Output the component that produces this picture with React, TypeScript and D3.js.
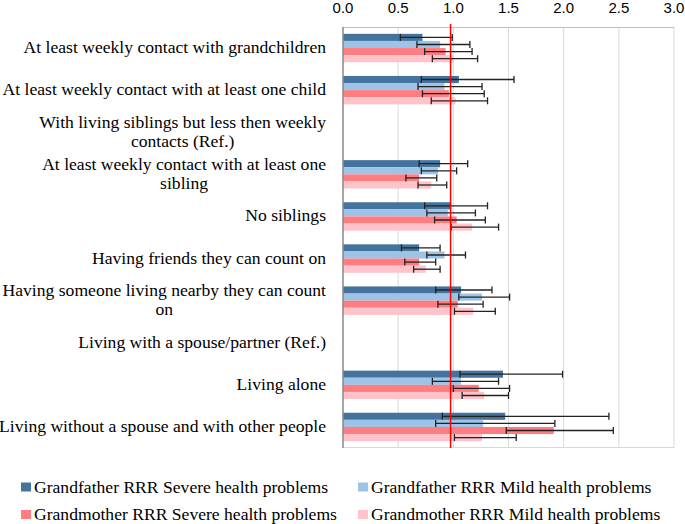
import * as React from 'react';
import * as d3 from 'd3';

const categories: string[][] = [
    ['At least weekly contact with grandchildren'],
    ['At least weekly contact with at least one child'],
    ['With living siblings but less then weekly', 'contacts (Ref.)'],
    ['At least weekly contact with at least one', 'sibling'],
    ['No siblings'],
    ['Having friends they can count on'],
    ['Having someone living nearby they can count', 'on'],
    ['Living with a spouse/partner (Ref.)'],
    ['Living alone'],
    ['Living without a spouse and with other people'],
];

const seriesNames = [
    'Grandfather RRR Severe health problems',
    'Grandfather RRR Mild health problems',
    'Grandmother RRR Severe health problems',
    'Grandmother RRR Mild health problems',
];

// RRR estimates (null = reference category)
const gfSevere = [0.72, 1.05, null, 0.88, 0.98, 0.69, 1.07, null, 1.45, 1.47];
const gfMild = [0.88, 0.92, null, 0.86, 0.95, 0.92, 1.26, null, 1.07, 1.27];
const gmSevere = [0.93, 0.96, null, 0.69, 1.03, 0.69, 1.04, null, 1.23, 1.91];
const gmMild = [1.00, 1.02, null, 0.80, 1.17, 0.75, 1.18, null, 1.28, 1.26];

// confidence intervals
const gfSevereLo = [0.52, 0.71, null, 0.69, 0.74, 0.53, 0.84, null, 1.06, 0.90];
const gfSevereHi = [0.99, 1.55, null, 1.13, 1.31, 0.88, 1.35, null, 1.99, 2.41];
const gfMildLo = [0.67, 0.68, null, 0.71, 0.76, 0.76, 1.05, null, 0.81, 0.84];
const gfMildHi = [1.15, 1.26, null, 1.03, 1.20, 1.11, 1.51, null, 1.41, 1.92];
const gmSevereLo = [0.74, 0.72, null, 0.57, 0.83, 0.56, 0.86, null, 1.00, 1.48];
const gmSevereHi = [1.17, 1.28, null, 0.85, 1.29, 0.84, 1.27, null, 1.51, 2.45];
const gmMildLo = [0.81, 0.80, null, 0.68, 0.98, 0.64, 1.01, null, 1.08, 1.01];
const gmMildHi = [1.22, 1.31, null, 0.94, 1.41, 0.88, 1.38, null, 1.50, 1.57];

const xTicks = [0, 0.5, 1, 1.5, 2, 2.5, 3];

const colors = ['#44749d', '#9dc3e6', '#ff7c80', '#ffc3c9'];

export default class App extends React.Component<{}, {}> {
    private svgRef = React.createRef<SVGSVGElement>();

    public render() {
        return (
            <svg ref={this.svgRef} width={685} height={524}
                style={{position: 'absolute', left: 0, top: 0, background: '#fff'}} />
        );
    }

    public componentDidMount(): void {
        this.draw();
    }

    private draw(): void {
        const svg = d3.select(this.svgRef.current);
        svg.selectAll('*').remove();

        const margin = {top: 27, left: 343, right: 11, bottom: 76};
        const width = 685 - margin.left - margin.right;
        const height = 524 - margin.top - margin.bottom;
        const font = 'Liberation Serif, serif';
        const fontSize = 17.6;

        const x = d3.scaleLinear().domain([0, 3]).range([margin.left, margin.left + width]);
        const y = d3.scaleBand<number>()
            .domain(d3.range(categories.length))
            .range([margin.top, margin.top + height]);
        const groupH = y.bandwidth() * 0.675;
        const sub = d3.scaleBand<number>().domain([0, 1, 2, 3]).range([0, groupH]);

        // gridlines
        svg.append('g').selectAll('line').data(xTicks.slice(1)).enter().append('line')
            .attr('x1', d => x(d)).attr('x2', d => x(d))
            .attr('y1', margin.top).attr('y2', margin.top + height)
            .attr('stroke', '#d9d9d9').attr('stroke-width', 1);

        // frame: top and bottom
        svg.append('line')
            .attr('x1', margin.left).attr('x2', margin.left + width)
            .attr('y1', margin.top + 0.5).attr('y2', margin.top + 0.5)
            .attr('stroke', '#bfbfbf');
        svg.append('line')
            .attr('x1', margin.left).attr('x2', margin.left + width)
            .attr('y1', margin.top + height - 0.5).attr('y2', margin.top + height - 0.5)
            .attr('stroke', '#d9d9d9');

        // top axis labels
        svg.append('g').selectAll('text').data(xTicks).enter().append('text')
            .attr('x', d => x(d)).attr('y', 13)
            .attr('text-anchor', 'middle')
            .attr('font-family', 'Liberation Sans, Arial, sans-serif')
            .attr('font-size', 15)
            .attr('fill', '#000')
            .text(d => d.toFixed(1));

        const vals = [gfSevere, gfMild, gmSevere, gmMild];
        const los = [gfSevereLo, gfMildLo, gmSevereLo, gmMildLo];
        const his = [gfSevereHi, gfMildHi, gmSevereHi, gmMildHi];

        const bars = svg.append('g');
        const errs = svg.append('g');
        const capH = 3.5;

        vals.forEach((series, s) => {
            const rows = series.map((v, i) => ({i, v, lo: los[s][i], hi: his[s][i]}))
                .filter(d => d.v !== null);
            const top = (i: number) => (y(i) as number) + (y.bandwidth() - groupH) / 2 + (sub(s) as number);

            bars.selectAll(null).data(rows).enter().append('rect')
                .attr('x', x(0))
                .attr('y', d => top(d.i))
                .attr('width', d => x(d.v as number) - x(0))
                .attr('height', sub.bandwidth())
                .attr('fill', colors[s]);

            const eg = errs.selectAll(null).data(rows).enter().append('g')
                .attr('transform', d => 'translate(0,' + (top(d.i) + sub.bandwidth() / 2) + ')');
            eg.append('line')
                .attr('x1', d => x(d.lo as number)).attr('x2', d => x(d.hi as number))
                .attr('stroke', '#222').attr('stroke-width', 1.3);
            eg.append('line')
                .attr('x1', d => x(d.lo as number)).attr('x2', d => x(d.lo as number))
                .attr('y1', -capH).attr('y2', capH)
                .attr('stroke', '#222').attr('stroke-width', 1.3);
            eg.append('line')
                .attr('x1', d => x(d.hi as number)).attr('x2', d => x(d.hi as number))
                .attr('y1', -capH).attr('y2', capH)
                .attr('stroke', '#222').attr('stroke-width', 1.3);
        });

        // left axis line
        svg.append('line')
            .attr('x1', margin.left).attr('x2', margin.left)
            .attr('y1', margin.top).attr('y2', margin.top + height)
            .attr('stroke', '#888').attr('stroke-width', 1.5);

        // reference line at RRR = 1
        svg.append('line')
            .attr('x1', x(0.975)).attr('x2', x(0.975))
            .attr('y1', margin.top - 3).attr('y2', margin.top + height)
            .attr('stroke', '#ff0000').attr('stroke-width', 1.5);

        // category labels: block right-aligned, lines centred within it
        const labelRight = 326;
        const lineH = 19;
        categories.forEach((lines, i) => {
            const cy = (y(i) as number) + y.bandwidth() / 2;
            const t = svg.append('text')
                .attr('font-family', font)
                .attr('font-size', fontSize)
                .attr('fill', '#000');
            const spans = lines.map((l, k) => t.append('tspan')
                .attr('dy', k === 0 ? 0 : lineH)
                .text(l));
            const widths = spans.map(sp => (sp.node() as SVGTSpanElement).getComputedTextLength());
            const blockW = d3.max(widths) as number;
            const cx = labelRight - blockW / 2;
            spans.forEach(sp => sp.attr('x', cx));
            t.attr('text-anchor', 'middle')
                .attr('y', cy - (lines.length - 1) * lineH / 2 + 5);
        });

        // legend
        const legend = svg.append('g');
        const legendPos = [[21, 487], [358, 487], [21, 514.5], [358, 514.5]];
        seriesNames.forEach((name, s) => {
            const [lx, ly] = legendPos[s];
            legend.append('rect')
                .attr('x', lx).attr('y', ly - 4.5)
                .attr('width', 10).attr('height', 9)
                .attr('fill', colors[s]);
            legend.append('text')
                .attr('x', lx + 13).attr('y', ly + 5.5)
                .attr('font-family', font)
                .attr('font-size', fontSize)
                .text(name);
        });
    }
}
